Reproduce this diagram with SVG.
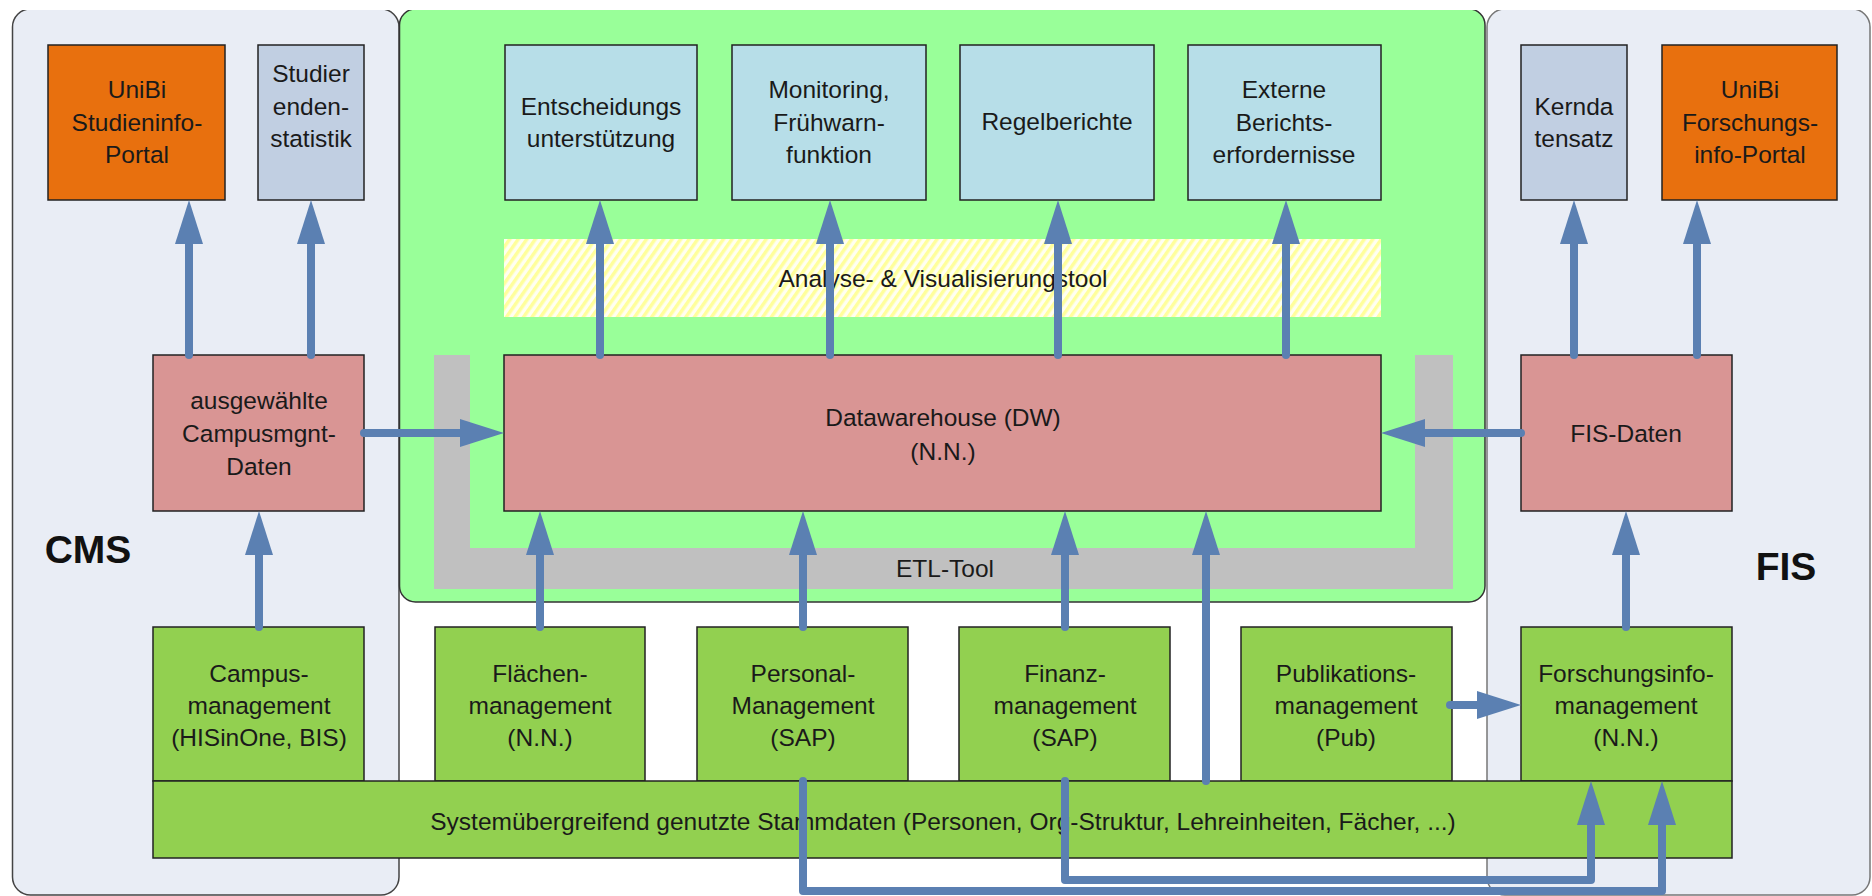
<svg xmlns="http://www.w3.org/2000/svg" width="1872" height="896" viewBox="0 0 1872 896">
<style>
text{font-family:"Liberation Sans",Arial,sans-serif;font-size:24.5px;fill:#1a1a1a;text-anchor:middle}
.big{font-size:39px;font-weight:bold;fill:#111}
.box{stroke:#222;stroke-width:1.5}
.orange{fill:#e8700e}
.lblue{fill:#b7dee8}
.gblue{fill:#c1cfe2}
.pink{fill:#d99594}
.green{fill:#92d050}
.conn{fill:none;stroke:#5b80b2;stroke-width:8;stroke-linecap:round;stroke-linejoin:round;marker-end:url(#ah)}
.line{fill:none;stroke:#5b80b2;stroke-width:8;stroke-linecap:round;stroke-linejoin:round}
</style>
<defs>
<marker id="ah" markerUnits="userSpaceOnUse" viewBox="0 0 44 28" markerWidth="44" markerHeight="28" refX="26" refY="14" orient="auto">
<path d="M0,0 L44,14 L0,28 Z" fill="#5b80b2"/>
</marker>
<pattern id="hatch" patternUnits="userSpaceOnUse" width="7" height="7" patternTransform="rotate(35)">
<rect width="7" height="7" fill="#fffff2"/>
<rect width="3.5" height="7" fill="#ffff9c"/>
</pattern>
</defs>
<rect width="1872" height="896" fill="#ffffff"/>
<g id="panels">
<rect id="cms-panel" x="12.5" y="9" width="386.5" height="886" rx="18" fill="#e9edf5" stroke="#444" stroke-width="1.5"/>
<rect id="fis-panel" x="1487" y="9" width="383" height="886" rx="18" fill="#e9edf5" stroke="#777" stroke-width="1.5"/>
<rect id="dw-panel" x="399.5" y="9" width="1085.5" height="593" rx="16" fill="#99ff99" stroke="#333" stroke-width="1.5"/>
<rect x="0" y="0" width="1872" height="10" fill="#ffffff"/>
<path id="etl-frame" d="M434,355 L470,355 L470,548 L1415,548 L1415,355 L1453,355 L1453,589 L434,589 Z" fill="#c0c0c0"/>
<rect id="analyse-band" x="504" y="239" width="877" height="78" fill="url(#hatch)"/>
<text x="943" y="287">Analyse- &amp; Visualisierungstool</text>
<text x="945" y="577">ETL-Tool</text>
<text class="big" x="88" y="563">CMS</text>
<text class="big" x="1786" y="580">FIS</text>
</g>
<g id="n-studieninfo">
<rect class="box orange" x="48" y="45" width="177" height="155"/>
<text x="137" y="98">UniBi</text><text x="137" y="131">Studieninfo-</text><text x="137" y="163">Portal</text>
</g>
<g id="n-studstat">
<rect class="box gblue" x="258" y="45" width="106" height="155"/>
<text x="311" y="82">Studier</text><text x="311" y="115">enden-</text><text x="311" y="147">statistik</text>
</g>
<g id="n-entscheidung">
<rect class="box lblue" x="505" y="45" width="192" height="155"/>
<text x="601" y="115">Entscheidungs</text><text x="601" y="147">unterstützung</text>
</g>
<g id="n-monitoring">
<rect class="box lblue" x="732" y="45" width="194" height="155"/>
<text x="829" y="98">Monitoring,</text><text x="829" y="131">Frühwarn-</text><text x="829" y="163">funktion</text>
</g>
<g id="n-regel">
<rect class="box lblue" x="960" y="45" width="194" height="155"/>
<text x="1057" y="130">Regelberichte</text>
</g>
<g id="n-extern">
<rect class="box lblue" x="1188" y="45" width="193" height="155"/>
<text x="1284" y="98">Externe</text><text x="1284" y="131">Berichts-</text><text x="1284" y="163">erfordernisse</text>
</g>
<g id="n-kerndaten">
<rect class="box gblue" x="1521" y="45" width="106" height="155"/>
<text x="1574" y="115">Kernda</text><text x="1574" y="147">tensatz</text>
</g>
<g id="n-forschportal">
<rect class="box orange" x="1662" y="45" width="175" height="155"/>
<text x="1750" y="98">UniBi</text><text x="1750" y="131">Forschungs-</text><text x="1750" y="163">info-Portal</text>
</g>
<g id="n-campusdaten">
<rect class="box pink" x="153" y="355" width="211" height="156"/>
<text x="259" y="409">ausgewählte</text><text x="259" y="442">Campusmgnt-</text><text x="259" y="475">Daten</text>
</g>
<g id="n-dw">
<rect class="box pink" x="504" y="355" width="877" height="156"/>
<text x="943" y="426">Datawarehouse (DW)</text><text x="943" y="460">(N.N.)</text>
</g>
<g id="n-fisdaten">
<rect class="box pink" x="1521" y="355" width="211" height="156"/>
<text x="1626" y="442">FIS-Daten</text>
</g>
<g id="n-campus">
<rect class="box green" x="153" y="627" width="211" height="154"/>
<text x="259" y="682">Campus-</text><text x="259" y="714">management</text><text x="259" y="746">(HISinOne, BIS)</text>
</g>
<g id="n-flaechen">
<rect class="box green" x="435" y="627" width="210" height="154"/>
<text x="540" y="682">Flächen-</text><text x="540" y="714">management</text><text x="540" y="746">(N.N.)</text>
</g>
<g id="n-personal">
<rect class="box green" x="697" y="627" width="211" height="154"/>
<text x="803" y="682">Personal-</text><text x="803" y="714">Management</text><text x="803" y="746">(SAP)</text>
</g>
<g id="n-finanz">
<rect class="box green" x="959" y="627" width="211" height="154"/>
<text x="1065" y="682">Finanz-</text><text x="1065" y="714">management</text><text x="1065" y="746">(SAP)</text>
</g>
<g id="n-pub">
<rect class="box green" x="1241" y="627" width="211" height="154"/>
<text x="1346" y="682">Publikations-</text><text x="1346" y="714">management</text><text x="1346" y="746">(Pub)</text>
</g>
<g id="n-forsch">
<rect class="box green" x="1521" y="627" width="211" height="154"/>
<text x="1626" y="682">Forschungsinfo-</text><text x="1626" y="714">management</text><text x="1626" y="746">(N.N.)</text>
</g>
<g id="n-stammdaten">
<rect class="box green" x="153" y="781" width="1579" height="77"/>
<text x="943" y="830">Systemübergreifend genutzte Stammdaten (Personen, Org-Struktur, Lehreinheiten, Fächer, ...)</text>
</g>
<g id="connectors">
<path class="conn" d="M259,627 V529"/>
<path class="conn" d="M189,355 V218"/>
<path class="conn" d="M311,355 V218"/>
<path class="conn" d="M364,433 H486"/>
<path class="conn" d="M600,355 V218"/>
<path class="conn" d="M830,355 V218"/>
<path class="conn" d="M1058,355 V218"/>
<path class="conn" d="M1286,355 V218"/>
<path class="conn" d="M540,627 V529"/>
<path class="conn" d="M803,627 V529"/>
<path class="conn" d="M1065,627 V529"/>
<path class="conn" d="M1206,781 V529"/>
<path class="conn" d="M1521,433 H1399"/>
<path class="conn" d="M1626,627 V529"/>
<path class="conn" d="M1574,355 V218"/>
<path class="conn" d="M1697,355 V218"/>
<path class="conn" d="M1450,705 H1503"/>
<path class="conn" d="M803,781 V891 H1662 V799"/>
<path class="conn" d="M1065,781 V880 H1591 V799"/>
</g>
</svg>
